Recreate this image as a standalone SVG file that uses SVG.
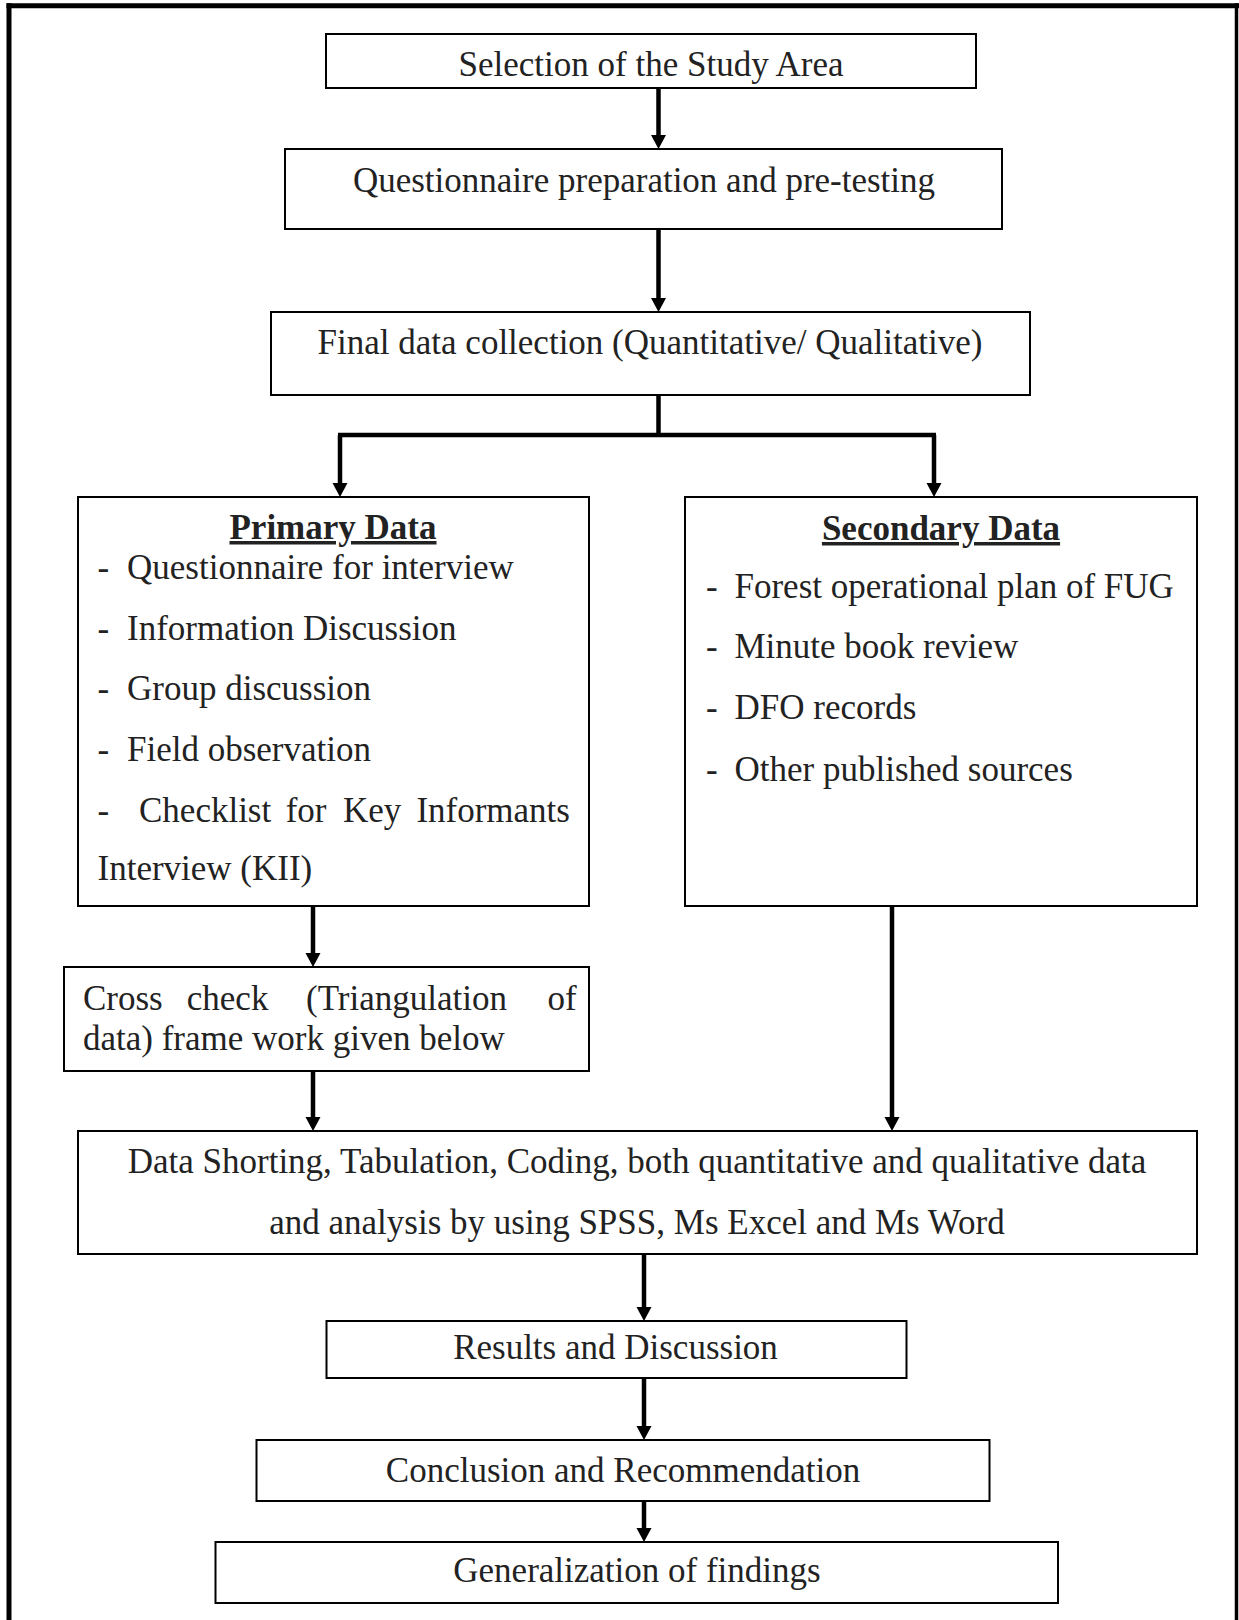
<svg xmlns="http://www.w3.org/2000/svg" width="1239" height="1620" viewBox="0 0 1239 1620">
<defs>
<marker id="ah" markerUnits="userSpaceOnUse" markerWidth="16" markerHeight="16" refX="2" refY="7.5" orient="auto" viewBox="0 0 16 16">
<path d="M0,0 L14,7.5 L0,15 z" fill="#000"/>
</marker>
<style>
.box{fill:#fff;stroke:#000;stroke-width:2}
.t{font-family:"Liberation Serif","Times New Roman",serif;font-size:35px;fill:#222}
.c{text-anchor:middle}
.b{font-weight:bold;text-decoration:underline}
.con{stroke:#000;stroke-width:4.5;fill:none}
.arr{marker-end:url(#ah)}
.frame{stroke:#000;fill:none}
</style>
</defs>
<rect width="1239" height="1620" fill="#fff"/>
<g id="frame">
<line class="frame" x1="6.5" y1="5.8" x2="1239" y2="5.8" stroke-width="5"/>
<line class="frame" x1="9" y1="3.3" x2="9" y2="1620" stroke-width="5"/>
<line class="frame" x1="1236.5" y1="3.3" x2="1236.5" y2="1620" stroke-width="3.5"/>
</g>
<g id="connectors">
<line class="con arr" x1="658.5" y1="88" x2="658.5" y2="137"/>
<line class="con arr" x1="658.5" y1="229" x2="658.5" y2="300"/>
<polyline class="con" points="658.5,395 658.5,435" stroke-width="5"/>
<line class="con" x1="338" y1="435" x2="936" y2="435" stroke-width="5"/>
<line class="con arr" x1="340" y1="435" x2="340" y2="485"/>
<line class="con arr" x1="934" y1="435" x2="934" y2="485"/>
<line class="con arr" x1="313" y1="906" x2="313" y2="955"/>
<line class="con arr" x1="313" y1="1071" x2="313" y2="1119"/>
<line class="con arr" x1="892" y1="906" x2="892" y2="1119"/>
<line class="con arr" x1="644" y1="1254" x2="644" y2="1309"/>
<line class="con arr" x1="644" y1="1378" x2="644" y2="1428"/>
<line class="con arr" x1="644" y1="1501" x2="644" y2="1530"/>
</g>
<g id="n1">
<rect class="box" x="326" y="34" width="650" height="54"/>
<text class="t c" x="651" y="76">Selection of the Study Area</text>
</g>
<g id="n2">
<rect class="box" x="285" y="149" width="717" height="80"/>
<text class="t c" x="644" y="192">Questionnaire preparation and pre-testing</text>
</g>
<g id="n3">
<rect class="box" x="271" y="312" width="759" height="83"/>
<text class="t c" x="650" y="354">Final data collection (Quantitative/ Qualitative)</text>
</g>
<g id="n4">
<rect class="box" x="78" y="497" width="511" height="409"/>
<text class="t c b" x="333" y="539">Primary Data</text>
<text class="t" x="97.5" y="579">-</text><text class="t" x="127" y="579">Questionnaire for interview</text>
<text class="t" x="97.5" y="640">-</text><text class="t" x="127" y="640">Information Discussion</text>
<text class="t" x="97.5" y="700">-</text><text class="t" x="127" y="700">Group discussion</text>
<text class="t" x="97.5" y="761">-</text><text class="t" x="127" y="761">Field observation</text>
<text class="t" y="822"><tspan x="97.5">-</tspan><tspan x="139">Checklist</tspan><tspan x="285.7">for</tspan><tspan x="343">Key</tspan><tspan x="416.4">Informants</tspan></text>
<text class="t" x="97.5" y="880">Interview (KII)</text>
</g>
<g id="n5">
<rect class="box" x="685" y="497" width="512" height="409"/>
<text class="t c b" x="941" y="540">Secondary Data</text>
<text class="t" x="706" y="598">-</text><text class="t" x="734.5" y="598">Forest operational plan of FUG</text>
<text class="t" x="706" y="658">-</text><text class="t" x="734.5" y="658">Minute book review</text>
<text class="t" x="706" y="719">-</text><text class="t" x="734.5" y="719">DFO records</text>
<text class="t" x="706" y="781">-</text><text class="t" x="734.5" y="781">Other published sources</text>
</g>
<g id="n6">
<rect class="box" x="64" y="967" width="525" height="104"/>
<text class="t" y="1010"><tspan x="83">Cross</tspan><tspan x="186.8">check</tspan><tspan x="306">(Triangulation</tspan><tspan x="547.5">of</tspan></text>
<text class="t" x="83" y="1050">data) frame work given below</text>
</g>
<g id="n7">
<rect class="box" x="78" y="1131" width="1119" height="123"/>
<text class="t c" x="637" y="1173">Data Shorting, Tabulation, Coding, both quantitative and qualitative data</text>
<text class="t c" x="637" y="1234">and analysis by using SPSS, Ms Excel and Ms Word</text>
</g>
<g id="n8">
<rect class="box" x="326.5" y="1321" width="580" height="57"/>
<text class="t c" x="615.5" y="1359">Results and Discussion</text>
</g>
<g id="n9">
<rect class="box" x="256.5" y="1440" width="733" height="61"/>
<text class="t c" x="623" y="1482">Conclusion and Recommendation</text>
</g>
<g id="n10">
<rect class="box" x="215.5" y="1542" width="842.5" height="61"/>
<text class="t c" x="637" y="1582">Generalization of findings</text>
</g>
</svg>
